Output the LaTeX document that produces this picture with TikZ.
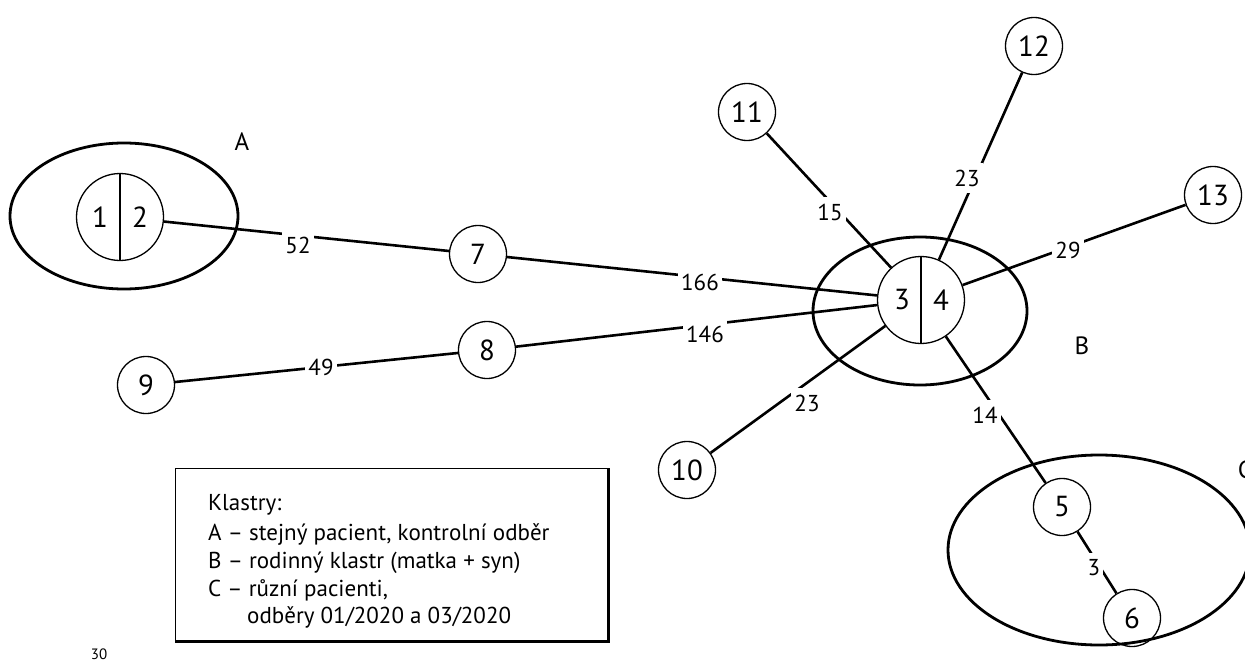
\documentclass[tikz,border=0pt]{standalone}
\usepackage{fontspec}
\setmainfont{PT Sans}
\usetikzlibrary{shapes.geometric}
\begin{document}
\begin{tikzpicture}[x=1pt,y=-1pt,
  every node/.style={font=\fontsize{23}{26}\selectfont},
  nd/.style={circle,draw,line width=1.3pt,minimum size=57pt,inner sep=0pt,font=\fontsize{29}{30}\selectfont},
  bignd/.style={circle,draw,line width=1.3pt,minimum size=87pt,inner sep=0pt},
  numtxt/.style={font=\fontsize{29}{30}\selectfont,inner sep=0pt},
  edge/.style={line width=2.6pt},
  lab/.style={fill=white,inner xsep=3pt,inner ysep=7pt,font=\fontsize{23}{24}\selectfont},
  clus/.style={ellipse,draw,line width=2.8pt,inner sep=0pt},
  clab/.style={font=\fontsize{25}{28}\selectfont},
  legtxt/.style={anchor=base west,inner sep=0pt,font=\fontsize{23}{26}\selectfont}
]
\useasboundingbox (0,0) rectangle (1245,661);

% cluster outlines
\node[clus,minimum width=228pt,minimum height=146pt] (clA) at (124,216) {};
\node[clus,minimum width=214pt,minimum height=148pt] (clB) at (920,311) {};
\node[clus,minimum width=302pt,minimum height=190pt] (clC) at (1099,550) {};
\node[clab] (lA) at (242,142) {A};
\node[clab] (lB) at (1082,346) {B};
\node[clab] (lC) at (1245,470) {C};

% nodes
\node[bignd] (n12s) at (120,217) {};
\draw[line width=1.3pt] (n12s.north) -- (n12s.south);
\node[numtxt] (t1) at (100,217) {1};
\node[numtxt] (t2) at (140,217) {2};

\node[bignd] (n34) at (921,300) {};
\draw[line width=1.3pt] (n34.north) -- (n34.south);
\node[numtxt] (t3) at (902,300) {3};
\node[numtxt] (t4) at (941,300) {4};

\node[nd] (n7) at (478,254) {7};
\node[nd] (n8) at (487,350) {8};
\node[nd] (n9) at (146,385) {9};
\node[nd] (n10) at (687,470) {10};
\node[nd] (n11) at (747,112) {11};
\node[nd] (n12) at (1034,46) {12};
\node[nd] (n13) at (1213,195) {13};
\node[nd] (n5) at (1062,507) {5};
\node[nd] (n6) at (1132,618) {6};

% edges
\draw[edge] (n12s) -- (n7);
\draw[edge] (n7) -- (n34);
\draw[edge] (n9) -- (n8);
\draw[edge] (n8) -- (n34);
\draw[edge] (n10) -- (n34);
\draw[edge] (n11) -- (n34);
\draw[edge] (n12) -- (n34);
\draw[edge] (n13) -- (n34);
\draw[edge] (n34) -- (n5);
\draw[edge] (n5) -- (n6);

% edge labels
\node[lab] (e52) at (298,245) {52};
\node[lab] (e166) at (700,282) {166};
\node[lab] (e49) at (321,367) {49};
\node[lab] (e146) at (705,334) {146};
\node[lab] (e23a) at (807,403) {23};
\node[lab] (e15) at (830,212) {15};
\node[lab] (e23b) at (967,178) {23};
\node[lab] (e29) at (1068,250) {29};
\node[lab] (e14) at (985,415) {14};
\node[lab] (e3) at (1094,568) {3};

% legend
\node[draw,line width=1.3pt,minimum width=432pt,minimum height=172pt,anchor=north west,inner sep=0pt] (leg) at (175,468) {};
\draw[line width=2.6pt] (leg.south west) -- (leg.south east) -- (leg.north east);
\node[legtxt] (l1) at (208,510) {Klastry:};
\node[legtxt] (l2) at (208,540) {A – stejný pacient, kontrolní odběr};
\node[legtxt] (l3) at (208,568) {B – rodinný klastr (matka + syn)};
\node[legtxt] (l4) at (208,596) {C – různí pacienti,};
\node[legtxt] (l5) at (247,623) {odběry 01/2020 a 03/2020};

\node[font=\fontsize{15}{17}\selectfont,inner sep=0pt] (n30) at (99,654) {30};
\end{tikzpicture}
\end{document}
